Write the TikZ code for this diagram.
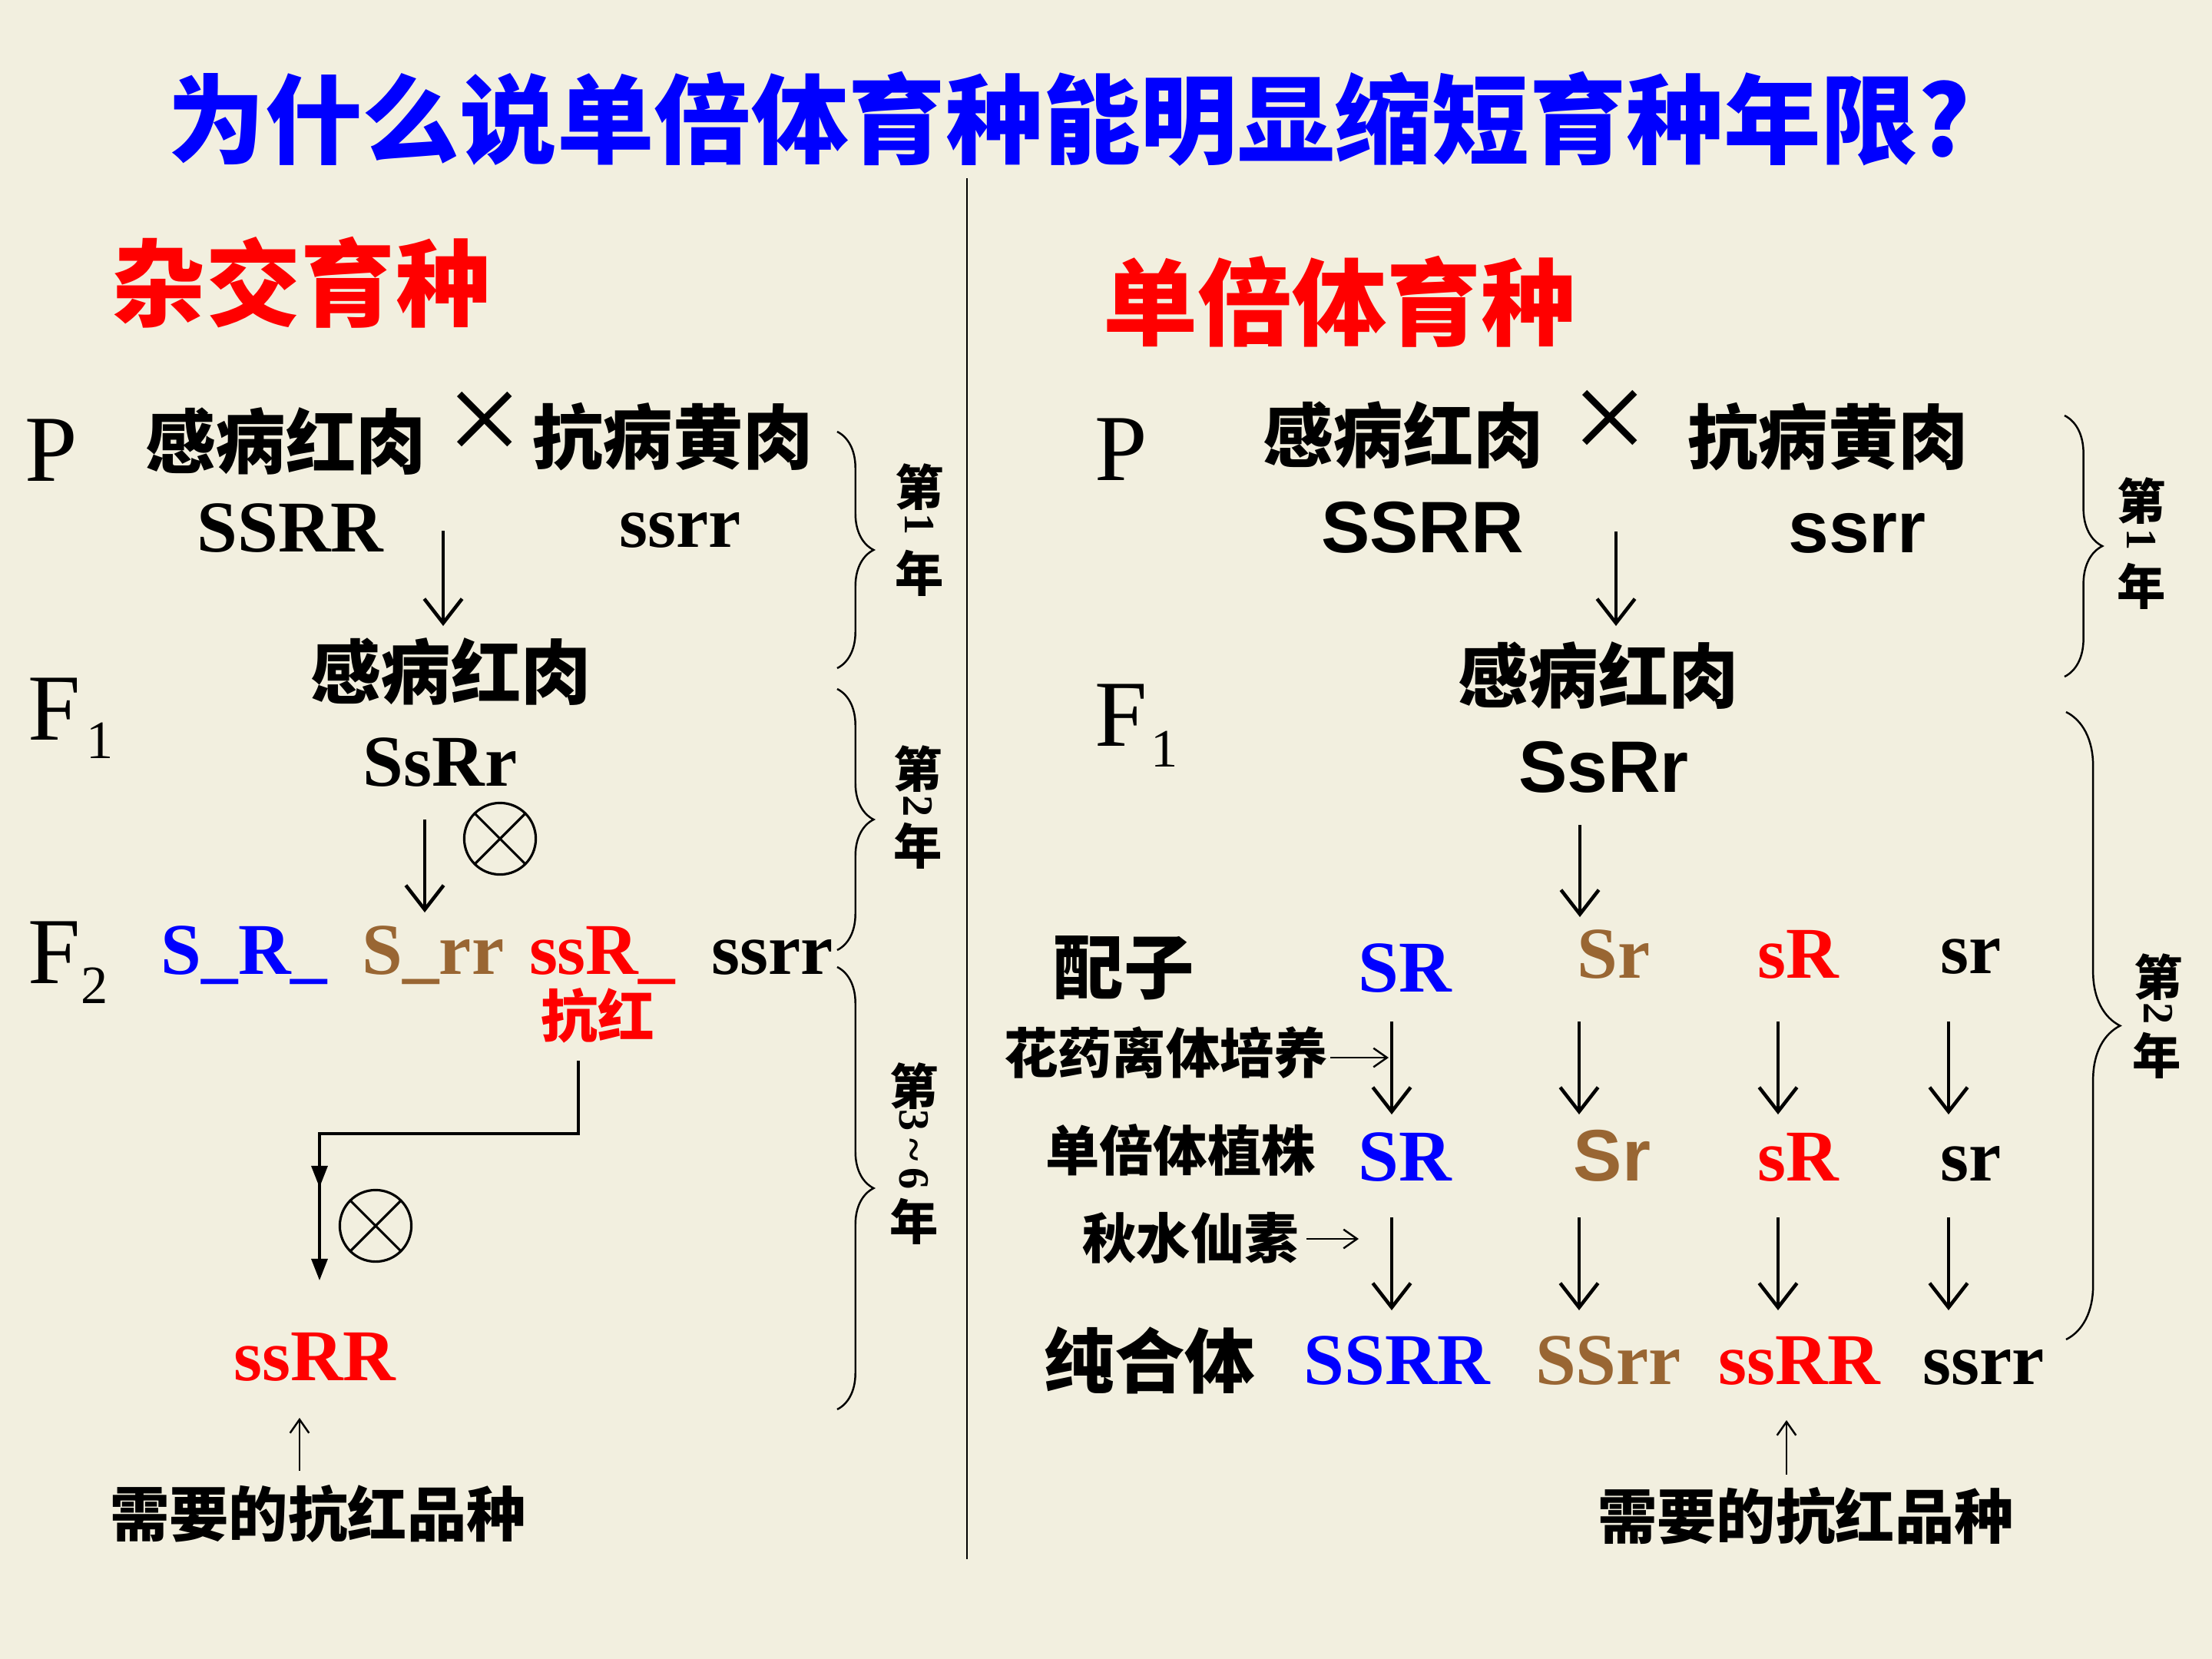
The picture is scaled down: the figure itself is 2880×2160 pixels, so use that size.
\documentclass[tikz,border=0pt]{standalone}
\usepackage{fontspec}
\setmainfont{Liberation Serif}
\newfontfamily\cjk{Noto Sans CJK SC}
\newfontfamily\sansf{Liberation Sans}
\usetikzlibrary{arrows.meta,decorations.pathreplacing}
\definecolor{bg}{RGB}{242,239,223}
\definecolor{tblue}{RGB}{0,0,255}
\definecolor{tred}{RGB}{255,0,0}
\definecolor{tbrown}{RGB}{153,102,51}
\newcommand\myfs[1]{\fontsize{#1}{#1}\selectfont}
\tikzset{
  title/.style={font=\cjk\bfseries\myfs{36pt}, text=tblue},
  head/.style={font=\cjk\bfseries\myfs{35pt}, text=tred},
  cn/.style={font=\cjk\bfseries\myfs{26pt}},
  cns/.style={font=\cjk\bfseries\myfs{20pt}},
  need/.style={font=\cjk\bfseries\myfs{22pt}},
  gen/.style={font=\bfseries\myfs{27pt}, anchor=base},
  gens/.style={font=\sansf\bfseries\myfs{27pt}, anchor=base},
  gl/.style={font=\myfs{35pt}, anchor=base west},
  subs/.style={font=\myfs{20pt}, anchor=base west},
  yr/.style={font=\cjk\bfseries\myfs{18pt}},
  yd/.style={font=\bfseries\myfs{16pt}, rotate=-90},
  timesx/.style={font=\myfs{50pt}},
  darr/.style={line width=1.3pt, -{Straight Barb[length=9pt,width=14pt,line width=1.3pt]}},
  tarr/.style={line width=0.7pt, -{Straight Barb[length=5pt,width=7pt,line width=0.7pt]}},
  elb/.style={line width=0.9pt},
  etip/.style={line width=0.9pt, -{Triangle[length=8pt,width=6pt]}},
  selfc/.style={circle, draw, line width=0.9pt, minimum size=26.5pt},
  brc/.style={decorate, line width=0.7pt},
}
\begin{document}
\begin{tikzpicture}[x=0.01cm,y=-0.01cm, every node/.style={inner sep=0pt, outer sep=0pt}]
\fill[bg] (0,0) rectangle (2880,2160);
\useasboundingbox (0,0) rectangle (2880,2160);

% title and headings
\node[title] (ttl) at (1392,155) {为什么说单倍体育种能明显缩短育种年限?};
\node[head] (hl) at (392,368) {杂交育种};
\node[head] (hr) at (1744,393) {单倍体育种};
\coordinate (dv1) at (1259,232);
\coordinate (dv2) at (1259,2030);
\draw[line width=0.6pt] (dv1) -- (dv2);

% ===== left: cross breeding =====
\node[gl] (lP) at (32,626) {P};
\node[gl] (lF1) at (36,963) {F};
\node[subs] (lF1s) at (112,987) {1};
\node[gl] (lF2) at (36,1280) {F};
\node[subs] (lF2s) at (106,1306) {2};

\node[cn] (lp1) at (372,575) {感病红肉};
\node[timesx] (lx) at (631,557) {×};
\node[cn] (lp2) at (876,569) {抗病黄肉};
\node[gen] (lg1) at (378,718) {SSRR};
\node[gen] (lg2) at (886,712) {ssrr};
\coordinate (la1) at (577,691);
\coordinate (la2) at (577,815);
\draw[darr] (la1) -- (la2);
\node[cn] (lf1) at (587,875) {感病红肉};
\node[gen] (lf1g) at (573,1023) {SsRr};
\node[selfc] (ls1) at (651,1092) {};
\draw[line width=0.9pt] (ls1.45) -- (ls1.225) (ls1.135) -- (ls1.315);
\coordinate (lb1) at (553,1067);
\coordinate (lb2) at (553,1188);
\draw[darr] (lb1) -- (lb2);

\node[gen, text=tblue] (f2a) at (318,1268) {S\_R\_};
\node[gen, text=tbrown] (f2b) at (564,1268) {S\_rr};
\node[gen, text=tred] (f2c) at (784,1268) {ssR\_};
\node[gen] (f2d) at (1006,1268) {ssrr};
\node[font=\cjk\bfseries\myfs{21pt}, text=tred] (kh) at (778,1322) {抗红};

\coordinate (ea) at (753,1381);
\coordinate (eb) at (416,1476);
\coordinate (em) at (416,1546);
\coordinate (ec) at (416,1667);
\draw[elb] (ea) |- (eb) -- (em);
\draw[etip] (eb) -- (em);
\draw[etip] (em) -- (ec);
\node[selfc] (ls2) at (489,1596) {};
\draw[line width=0.9pt] (ls2.45) -- (ls2.225) (ls2.135) -- (ls2.315);

\node[gen, text=tred] (lres) at (410,1797) {ssRR};
\coordinate (lu1) at (390,1915);
\coordinate (lu2) at (390,1846);
\draw[tarr] (lu1) -- (lu2);
\node[need] (lneed) at (414,1971) {需要的抗红品种};

% left braces and year labels
\draw[brc, decoration={brace, amplitude=13.5pt}] (1090,562) -- (1090,870);
\draw[brc, decoration={brace, amplitude=13.5pt}] (1090,897) -- (1090,1237);
\draw[brc, decoration={brace, amplitude=13.5pt}] (1090,1259) -- (1090,1835);
\node[yr] (ly1a) at (1197,634) {第};
\node[yd] (ly1d) at (1197,683) {1};
\node[yr] (ly1b) at (1197,746) {年};
\node[yr] (ly2a) at (1195,1001) {第};
\node[yd] (ly2d) at (1195,1050) {2};
\node[yr] (ly2b) at (1195,1101) {年};
\node[yr] (ly3a) at (1190,1414) {第};
\node[yd] (ly3d) at (1190,1497) {3\,\textasciitilde\,6};
\node[yr] (ly3b) at (1190,1590) {年};

% ===== right: haploid breeding =====
\node[gl] (rP) at (1425,625) {P};
\node[gl] (rF1) at (1425,971) {F};
\node[subs] (rF1s) at (1498,998) {1};

\node[cn] (rp1) at (1827,567) {感病红肉};
\node[timesx] (rx) at (2096,555) {×};
\node[cn] (rp2) at (2380,569) {抗病黄肉};
\node[gens] (rg1) at (1852,719) {SSRR};
\node[gens] (rg2) at (2418,719) {ssrr};
\coordinate (ra1) at (2104,692);
\coordinate (ra2) at (2104,815);
\draw[darr] (ra1) -- (ra2);
\node[cn] (rf1) at (2081,880) {感病红肉};
\node[gens] (rf1g) at (2088,1031) {SsRr};
\coordinate (rb1) at (2057,1074);
\coordinate (rb2) at (2057,1194);
\draw[darr] (rb1) -- (rb2);

\node[cn] (gam) at (1463,1260) {配子};
\node[gen, text=tblue] (g1) at (1829,1291) {SR};
\node[gen, text=tbrown] (g2) at (2101,1273) {Sr};
\node[gen, text=tred] (g3) at (2341,1273) {sR};
\node[gen] (g4) at (2566,1267) {sr};

\foreach \x/\n in {1812/1,2056/2,2315/3,2537/4}{
  \coordinate (u\n) at (\x,1330);
  \coordinate (v\n) at (\x,1451);
  \draw[darr] (u\n) -- (v\n);
  \coordinate (w\n) at (\x,1585);
  \coordinate (z\n) at (\x,1706);
  \draw[darr] (w\n) -- (z\n);
}
\node[cns] (anth) at (1518,1371) {花药离体培养};
\coordinate (antharr) at (1808,1377);
\draw[tarr] (anth.east) ++(3,6) -- (antharr);

\node[cns] (hap) at (1537,1497) {单倍体植株};
\node[gen, text=tblue] (h1) at (1829,1537) {SR};
\node[gens, text=tbrown] (h2) at (2099,1537) {Sr};
\node[gen, text=tred] (h3) at (2341,1537) {sR};
\node[gen] (h4) at (2566,1537) {sr};

\node[cns] (colch) at (1550,1612) {秋水仙素};
\coordinate (colarr) at (1769,1613);
\draw[tarr] (colch.east) ++(10,1) -- (colarr);

\node[cn] (pure) at (1497,1771) {纯合体};
\node[gen, text=tblue] (p1) at (1819,1802) {SSRR};
\node[gen, text=tbrown] (p2) at (2094,1802) {SSrr};
\node[gen, text=tred] (p3) at (2343,1802) {ssRR};
\node[gen] (p4) at (2583,1802) {ssrr};

\coordinate (ru1) at (2326,1920);
\coordinate (ru2) at (2326,1849);
\draw[tarr] (ru1) -- (ru2);
\node[need] (rneed) at (2351,1974) {需要的抗红品种};

% right braces and year labels
\draw[brc, decoration={brace, amplitude=14pt}] (2688,541) -- (2688,881);
\draw[brc, decoration={brace, amplitude=20pt}] (2690,927) -- (2690,1744);
\node[yr] (ry1a) at (2788,652) {第};
\node[yd] (ry1d) at (2788,703) {1};
\node[yr] (ry1b) at (2788,763) {年};
\node[yr] (ry2a) at (2810,1272) {第};
\node[yd] (ry2d) at (2810,1320) {2};
\node[yr] (ry2b) at (2808,1374) {年};
\end{tikzpicture}
\end{document}
